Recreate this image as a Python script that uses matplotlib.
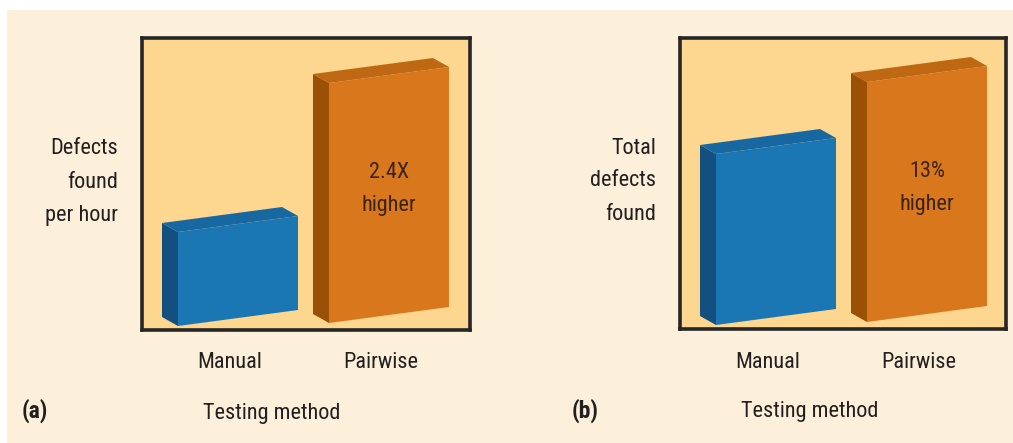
import matplotlib
matplotlib.use("Agg")
import matplotlib.pyplot as plt
from matplotlib.patches import Polygon, Rectangle
from matplotlib import font_manager

# data
categories = ["Manual", "Pairwise"]
defects_per_hour = [94, 240]      # relative bar heights, panel (a)
total_defects = [171, 240]        # relative bar heights, panel (b)
notes = ["2.4X\nhigher", "13%\nhigher"]
ylabels = ["Defects\nfound\nper hour", "Total\ndefects\nfound"]
panel_tags = ["(a)", "(b)"]

W, H = 1013, 443
names = {f.name for f in font_manager.fontManager.ttflist}
FONT = [n for n in ["Liberation Sans Narrow", "Roboto Condensed", "Lato"] if n in names] + ["DejaVu Sans"]
TXT = "#231f20"
FS = 16

face = {"Manual": ("#1b77b4", "#13507f", "#1768a1"),
        "Pairwise": ("#d9771d", "#9a5005", "#be6813")}

fig = plt.figure(figsize=(W / 100, H / 100), dpi=100)
fig.patch.set_facecolor("white")
fig.patches.append(Rectangle((7 / W, 0), 1, 1 - 10 / H, transform=fig.transFigure,
                             facecolor="#fdf0da", edgecolor="none", zorder=-5))


def draw_panel(box, values, note, ylabel, tag, tag_x):
    x0, y0, x1, y1 = box  # image pixels
    ax = fig.add_axes([x0 / W, 1 - y1 / H, (x1 - x0) / W, (y1 - y0) / H])
    ax.set_xlim(0, x1 - x0)
    ax.set_ylim(0, y1 - y0)
    ax.set_facecolor("#fdd790")
    ax.set_xticks([])
    ax.set_yticks([])
    for s in ax.spines.values():
        s.set_linewidth(2.6)
        s.set_color("#262626")

    lefts = [36, 187]
    bases = [4, 7]
    width, rise, dx, dy = 120, 16, -16, 9
    for cat, xl, yb, h in zip(categories, lefts, bases, values):
        front, side, top = face[cat]
        xr = xl + width
        ax.add_patch(Polygon([(xl, yb), (xl, yb + h), (xl + dx, yb + h + dy), (xl + dx, yb + dy)],
                             closed=True, facecolor=side, edgecolor="none"))
        ax.add_patch(Polygon([(xl, yb + h), (xr, yb + h + rise), (xr + dx, yb + h + rise + dy),
                              (xl + dx, yb + h + dy)], closed=True, facecolor=top, edgecolor="none"))
        ax.add_patch(Polygon([(xl, yb), (xr, yb + rise), (xr, yb + rise + h), (xl, yb + h)],
                             closed=True, facecolor=front, edgecolor="none"))
        ax.text(xl + (width + dx) / 2, -33, cat, ha="center", va="center",
                fontsize=FS, family=FONT, color=TXT, clip_on=False)

    ax.text(lefts[1] + width / 2, 141, note, ha="center", va="center", fontsize=FS,
            family=FONT, color="#3a2418", linespacing=1.7)
    ax.text(-24, 148, ylabel, ha="right", va="center", fontsize=FS, family=FONT,
            color=TXT, linespacing=1.75, clip_on=False)
    ax.text(130, -83, "Testing method", ha="center", va="center", fontsize=FS,
            family=FONT, color=TXT, clip_on=False)
    fig.text(tag_x / W, 1 - 411 / H, tag, ha="center", va="center", fontsize=17,
             family=FONT, weight="bold", color=TXT)


draw_panel((142, 38, 470, 330), defects_per_hour, notes[0], ylabels[0], panel_tags[0], 35)
draw_panel((680, 38, 1006, 329), total_defects, notes[1], ylabels[1], panel_tags[1], 585)

fig.savefig("out.png", dpi=100, facecolor=fig.get_facecolor())
